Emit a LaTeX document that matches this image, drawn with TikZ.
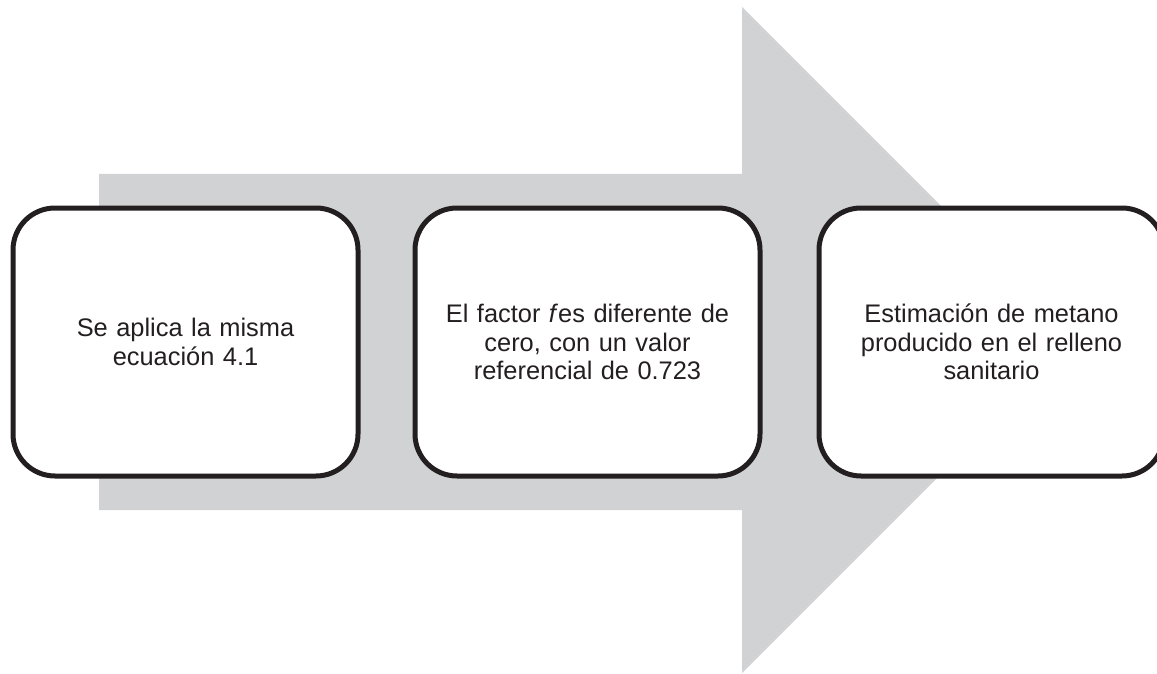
\documentclass[tikz,border=0pt]{standalone}
\usepackage{fontspec}
\setmainfont{Liberation Sans}
\definecolor{arrowgray}{HTML}{D1D2D4}
\definecolor{inkdark}{HTML}{231F20}
\begin{document}
\begin{tikzpicture}[x=1pt,y=-1pt,
  stagebox/.style={draw=inkdark, line width=5pt, fill=white, rounded corners=42pt,
    minimum width=345pt, minimum height=268pt, inner sep=0pt,
    align=center, text width=330pt, text=inkdark,
    font=\fontsize{25.4pt}{28.5pt}\selectfont},
  bigarrow/.style={fill=arrowgray, draw=none}]
\useasboundingbox (0,0) rectangle (1157,674);
\clip (0,0) rectangle (1157,674);
% wide block arrow behind the stages
\fill[bigarrow] (99,174) -- (742,174) -- (742,7) -- (1075,340) -- (742,673)
  -- (742,510) -- (99,510) -- cycle;
% the three stages
\node[stagebox] (s1) at (185.5,342) {Se aplica la misma\\ecuación 4.1};
\node[stagebox] (s2) at (587.5,342) {El factor \textit{f}es diferente de\\cero, con un valor\\referencial de 0.723};
\node[stagebox] (s3) at (991.5,342) {Estimación de metano\\producido en el relleno\\sanitario};
\end{tikzpicture}
\end{document}
